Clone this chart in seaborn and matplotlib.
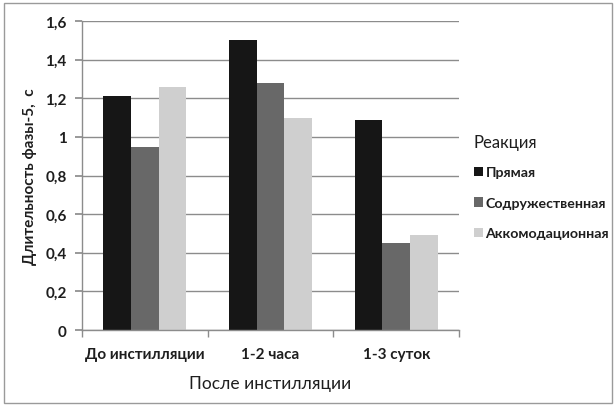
import matplotlib
matplotlib.use("Agg")
import matplotlib.pyplot as plt
import seaborn as sns
import pandas as pd
from matplotlib.patches import Rectangle, Patch

categories = ["До инстилляции", "1-2 часа", "1-3 суток"]
series = ["Прямая", "Содружественная", "Аккомодационная"]
values_direct = [1.21, 1.50, 1.09]
values_consensual = [0.95, 1.28, 0.45]
values_accom = [1.26, 1.10, 0.49]
yticks = [0, 0.2, 0.4, 0.6, 0.8, 1.0, 1.2, 1.4, 1.6]
ytick_labels = ["0", "0,2", "0,4", "0,6", "0,8", "1", "1,2", "1,4", "1,6"]
colors = ["#161616", "#686868", "#cfcfcf"]

rows = []
for s, vals in zip(series, [values_direct, values_consensual, values_accom]):
    for c, v in zip(categories, vals):
        rows.append({"cat": c, "series": s, "val": v})
df = pd.DataFrame(rows)

sns.set_theme(style="white")
plt.rcParams["font.family"] = ["Lato", "DejaVu Sans"]

fig = plt.figure(figsize=(6.14, 4.06), dpi=100)
ax = fig.add_axes([0.1336, 0.1847, 0.614, 0.7611])
sns.barplot(data=df, x="cat", y="val", hue="series", palette=colors,
            width=0.66, gap=0, ax=ax, legend=False, saturation=1,
            edgecolor="none", linewidth=0)

ax.set_ylim(0, 1.6)
ax.set_xlim(-0.5, 2.5)
ax.set_yticks(yticks)
ax.set_yticklabels(ytick_labels, fontsize=11, fontweight="bold", color="#1e1e1e")
ax.yaxis.grid(True, color="#8c8c8c", linewidth=1)
ax.set_axisbelow(True)
ax.set_xticks([0, 1, 2])
ax.set_xticklabels(categories, fontsize=11, fontweight="bold", color="#1e1e1e")
ax.tick_params(axis="x", length=0, pad=12)
ax.tick_params(axis="y", length=5, color="#8c8c8c", direction="out", left=True, pad=6)
ax.set_xticks([-0.5, 0.5, 1.5, 2.5], minor=True)
ax.tick_params(axis="x", which="minor", length=5, color="#8c8c8c", direction="out", bottom=True)

for side in ["top", "right"]:
    ax.spines[side].set_visible(False)
for side in ["left", "bottom"]:
    ax.spines[side].set_color("#8c8c8c")
    ax.spines[side].set_linewidth(1)

ax.set_xlabel("После инстилляции", fontsize=12.5, color="#1e1e1e", labelpad=10)
ax.set_ylabel("Длительность фазы-5,  с", fontsize=11, fontweight="bold", color="#1e1e1e", labelpad=6)

handles = [Patch(facecolor=c, edgecolor="none") for c in colors]
leg = fig.legend(handles, series, title="Реакция", loc="upper left",
                 bbox_to_anchor=(0.762, 0.682), frameon=False,
                 prop={"weight": "bold", "size": 10.2}, handlelength=0.65,
                 handleheight=0.65, handletextpad=0.2, labelspacing=1.3,
                 borderaxespad=0)
leg.get_title().set_fontsize(12)
leg.get_title().set_color("#1e1e1e")
leg._legend_box.align = "left"
leg._legend_box.sep = 12
for t in leg.get_texts():
    t.set_color("#1e1e1e")

fig.patches.append(Rectangle((0.006, 0.005), 0.99, 0.985, transform=fig.transFigure,
                             fill=False, edgecolor="#9a9a9a", linewidth=1))

fig.savefig("out.png", dpi=100)
